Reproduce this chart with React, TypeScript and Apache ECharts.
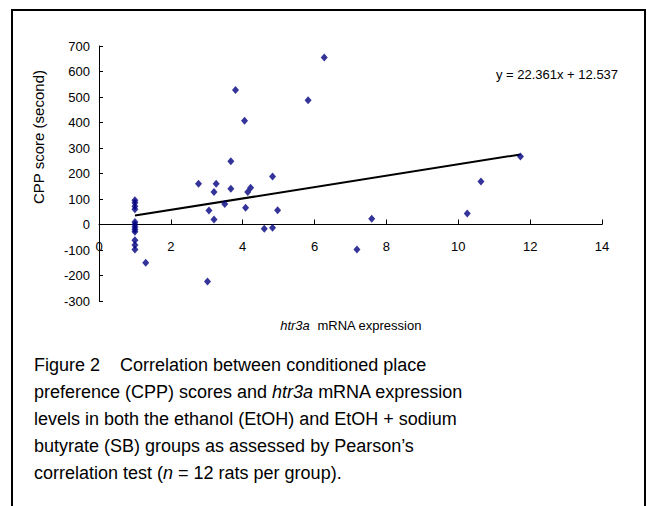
import React, { useEffect, useRef } from "react";
import * as echarts from "echarts";

const FONT = "'Liberation Sans', Arial, Helvetica, sans-serif";

// htr3a mRNA expression (x) and CPP score in seconds (y)
const xValues = [
  1.0, 1.0, 1.0, 1.0, 1.0, 1.0, 1.0, 1.0, 1.0, 1.0, 1.0, 1.0,
  1.3, 2.77, 3.02, 3.06, 3.2, 3.2, 3.26, 3.5, 3.67, 3.67, 3.8, 4.05, 4.08,
  4.14, 4.22, 4.6, 4.83, 4.83, 4.97, 5.82, 6.27, 7.18, 7.59, 10.25, 10.63, 11.73,
];
const yValues = [
  95, 85, 72, 60, 10, 0, -10, -20, -28, -62, -80, -98,
  -150, 160, -224, 55, 127, 20, 160, 80, 140, 248, 527, 407, 66,
  127, 144, -17, 188, -13, 56, 487, 655, -98, 23, 43, 169, 267,
];

const slope = 22.361;
const intercept = 12.537;
const equationLabel = "y = 22.361x + 12.537";
const yAxisTitle = "CPP score (second)";
const xAxisTitle = "{i|htr3a}\u00a0 mRNA expression";

const xMin = 0;
const xMax = 14;
const xInterval = 2;
const yMin = -300;
const yMax = 700;
const yInterval = 100;

const captionLines = [
  "Figure 2\u00a0\u00a0\u00a0 Correlation between conditioned place",
  "preference (CPP) scores and {i|htr3a} mRNA expression",
  "levels in both the ethanol (EtOH) and EtOH + sodium",
  "butyrate (SB) groups as assessed by Pearson\u2019s",
  "correlation test ({i|n} = 12 rats per group).",
];

const GRID_TOP = 46;
const GRID_HEIGHT = 255;

export default function App() {
  const ref = useRef<HTMLDivElement>(null);

  useEffect(() => {
    document.body.style.margin = "0";
    const chart = echarts.init(ref.current as HTMLDivElement, null, { renderer: "svg" });
    const points = xValues.map((x, i) => [x, yValues[i]]);
    const lo = Math.min(...xValues);
    const hi = Math.max(...xValues);
    const trend = [
      [lo, slope * lo + intercept],
      [hi, slope * hi + intercept],
    ];
    // move the x axis up so that it crosses the y axis at 0
    const zeroOffset = -GRID_HEIGHT * (0 - yMin) / (yMax - yMin);

    const captionGraphics = captionLines.map((line, i) => ({
      type: "text",
      x: 34,
      y: 364.8 + i * 27,
      silent: true,
      style: {
        text: line,
        fontSize: 18,
        fontFamily: FONT,
        fill: "#000",
        align: "left",
        verticalAlign: "middle",
        rich: {
          i: { fontStyle: "italic", fontSize: 18, fontFamily: FONT, fill: "#000" },
        },
      },
    }));

    chart.setOption({
      animation: false,
      textStyle: { fontFamily: FONT },
      grid: { left: 99, right: 45, top: GRID_TOP, height: GRID_HEIGHT },
      xAxis: {
        type: "value",
        min: xMin,
        max: xMax,
        interval: xInterval,
        position: "bottom",
        offset: zeroOffset,
        axisLine: { onZero: false, lineStyle: { color: "#000", width: 1 } },
        axisTick: { show: true, inside: true, length: 5, lineStyle: { color: "#000" } },
        axisLabel: { margin: 15, color: "#000", fontSize: 13, fontFamily: FONT },
        splitLine: { show: false },
      },
      yAxis: {
        type: "value",
        min: yMin,
        max: yMax,
        interval: yInterval,
        axisLine: { show: true, onZero: false, lineStyle: { color: "#000", width: 1 } },
        axisTick: { show: true, inside: true, length: 4, lineStyle: { color: "#000" } },
        axisLabel: { margin: 9, color: "#000", fontSize: 13, fontFamily: FONT },
        splitLine: { show: false },
      },
      series: [
        {
          type: "line",
          data: trend,
          symbol: "none",
          showSymbol: false,
          lineStyle: { color: "#000", width: 2 },
          z: 2,
          silent: true,
        },
        {
          type: "scatter",
          data: points,
          symbol: "diamond",
          symbolSize: [7, 8],
          itemStyle: { color: "#000080" },
          z: 3,
        },
      ],
      graphic: [
        {
          type: "rect",
          silent: true,
          shape: { x: 12, y: 10, width: 633, height: 520 },
          style: { fill: "none", stroke: "#000", lineWidth: 2 },
        },
        {
          type: "text",
          x: 557,
          y: 74,
          silent: true,
          style: {
            text: equationLabel,
            fontSize: 13,
            fontFamily: FONT,
            fill: "#000",
            align: "center",
            verticalAlign: "middle",
          },
        },
        {
          type: "text",
          x: 38,
          y: 137,
          rotation: Math.PI / 2,
          silent: true,
          style: {
            text: yAxisTitle,
            fontSize: 15,
            fontFamily: FONT,
            fill: "#000",
            align: "center",
            verticalAlign: "middle",
          },
        },
        {
          type: "text",
          x: 351,
          y: 325,
          silent: true,
          style: {
            text: xAxisTitle,
            fontSize: 13,
            fontFamily: FONT,
            fill: "#000",
            align: "center",
            verticalAlign: "middle",
            rich: {
              i: { fontStyle: "italic", fontSize: 13, fontFamily: FONT, fill: "#000" },
            },
          },
        },
        ...captionGraphics,
      ],
    });

    return () => chart.dispose();
  }, []);

  return <div ref={ref} style={{ width: 647, height: 506 }} />;
}
